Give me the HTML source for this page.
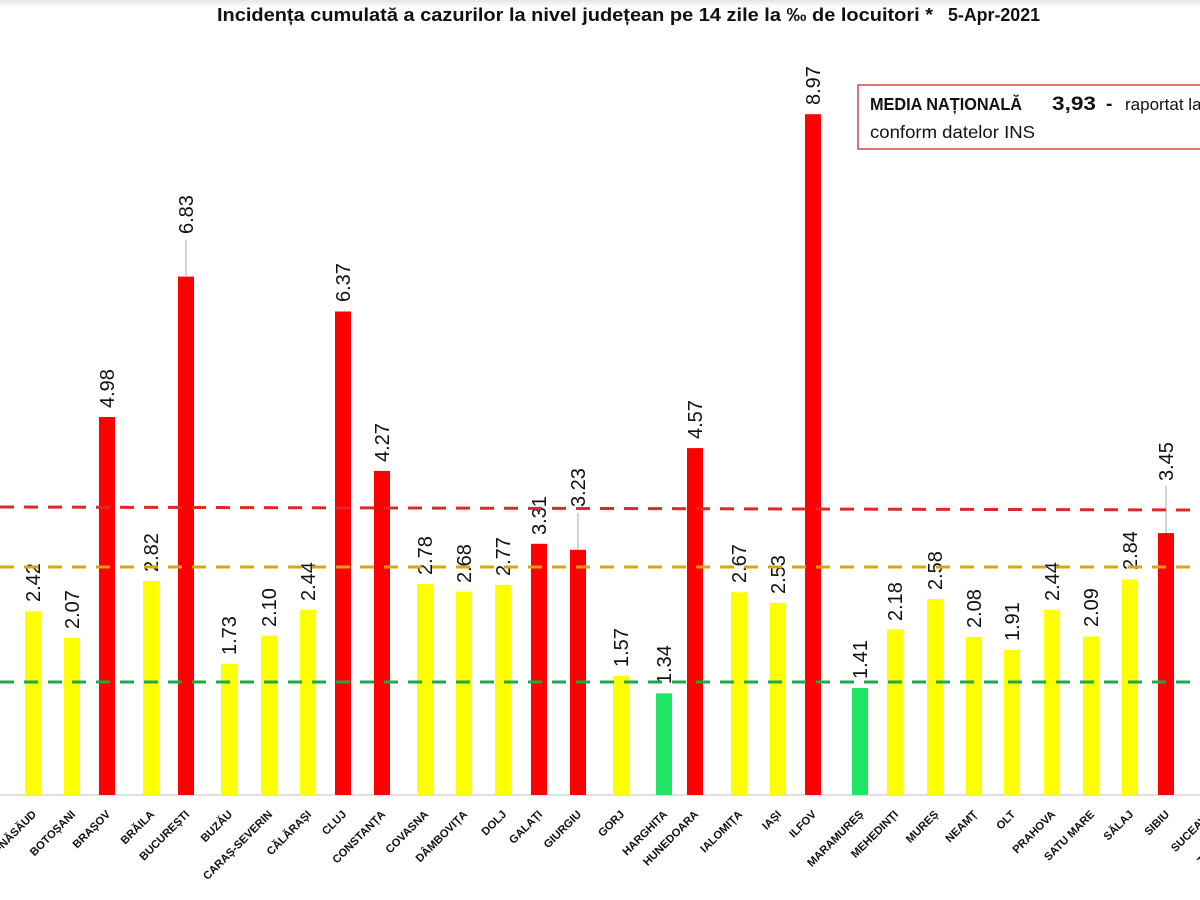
<!DOCTYPE html>
<html><head><meta charset="utf-8"><style>
html,body{margin:0;padding:0;background:#fff;}
svg{display:block;}
.v{font-family:"Liberation Sans",sans-serif;font-size:20px;fill:#111;}
.x{font-family:"Liberation Sans",sans-serif;font-size:11.2px;font-weight:bold;fill:#111;text-anchor:end;}
</style></head><body>
<svg width="1200" height="900" viewBox="0 0 1200 900" xmlns="http://www.w3.org/2000/svg">
<defs><linearGradient id="tg" x1="0" y1="0" x2="0" y2="1"><stop offset="0" stop-color="#e4e4e4"/><stop offset="1" stop-color="#ffffff"/></linearGradient></defs>
<rect x="0" y="0" width="1200" height="900" fill="#fff"/>
<rect x="0" y="0" width="1200" height="7" fill="url(#tg)"/>
<text x="217" y="21" font-family="Liberation Sans, sans-serif" font-size="18.5" font-weight="bold" fill="#111" textLength="716" lengthAdjust="spacingAndGlyphs">Incidența cumulată a cazurilor la nivel județean pe 14 zile la ‰ de locuitori *</text>
<text x="948" y="21" font-family="Liberation Sans, sans-serif" font-size="18.5" font-weight="bold" fill="#111" textLength="92" lengthAdjust="spacingAndGlyphs">5-Apr-2021</text>

<rect x="858" y="85" width="400" height="64" fill="#fff" stroke="#d04848" stroke-width="1.5"/>
<text x="870" y="110" font-family="Liberation Sans, sans-serif" font-size="17.5" font-weight="bold" fill="#111" textLength="152" lengthAdjust="spacingAndGlyphs">MEDIA NAȚIONALĂ</text>
<text x="1052" y="110" font-family="Liberation Sans, sans-serif" font-size="19" font-weight="bold" fill="#111" textLength="44" lengthAdjust="spacingAndGlyphs">3,93</text>
<text x="1106" y="110" font-family="Liberation Sans, sans-serif" font-size="19" font-weight="bold" fill="#111">-</text>
<text x="1125" y="110" font-family="Liberation Sans, sans-serif" font-size="17" fill="#111">raportat la populația</text>
<text x="870" y="138" font-family="Liberation Sans, sans-serif" font-size="17.5" fill="#111" textLength="165" lengthAdjust="spacingAndGlyphs">conform datelor INS</text>

<line x1="0" y1="795" x2="1200" y2="795" stroke="#d6d6d6" stroke-width="1.5"/>

<g>
<rect x="25" y="611.3" width="16" height="183.7" fill="#ffff00"/>
<rect x="64" y="637.9" width="16" height="157.1" fill="#ffff00"/>
<rect x="99" y="417" width="16" height="378" fill="#ff0000"/>
<rect x="143" y="581" width="16" height="214" fill="#ffff00"/>
<rect x="178" y="276.6" width="16" height="518.4" fill="#ff0000"/>
<rect x="221" y="663.7" width="16" height="131.3" fill="#ffff00"/>
<rect x="261" y="635.6" width="16" height="159.4" fill="#ffff00"/>
<rect x="300" y="609.8" width="16" height="185.2" fill="#ffff00"/>
<rect x="335" y="311.5" width="16" height="483.5" fill="#ff0000"/>
<rect x="374" y="470.9" width="16" height="324.1" fill="#ff0000"/>
<rect x="417" y="584" width="16" height="211" fill="#ffff00"/>
<rect x="456" y="591.6" width="16" height="203.4" fill="#ffff00"/>
<rect x="495" y="584.8" width="16" height="210.2" fill="#ffff00"/>
<rect x="531" y="543.8" width="16" height="251.2" fill="#ff0000"/>
<rect x="570" y="549.8" width="16" height="245.2" fill="#ff0000"/>
<rect x="613" y="675.8" width="16" height="119.2" fill="#ffff00"/>
<rect x="656" y="693.3" width="16" height="101.7" fill="#20e464"/>
<rect x="687" y="448.1" width="16" height="346.9" fill="#ff0000"/>
<rect x="731" y="592.3" width="16" height="202.7" fill="#ffff00"/>
<rect x="770" y="603" width="16" height="192" fill="#ffff00"/>
<rect x="805" y="114.2" width="16" height="680.8" fill="#ff0000"/>
<rect x="852" y="688" width="16" height="107" fill="#20e464"/>
<rect x="887" y="629.5" width="16" height="165.5" fill="#ffff00"/>
<rect x="927" y="599.2" width="16" height="195.8" fill="#ffff00"/>
<rect x="966" y="637.1" width="16" height="157.9" fill="#ffff00"/>
<rect x="1004" y="650" width="16" height="145" fill="#ffff00"/>
<rect x="1044" y="609.8" width="16" height="185.2" fill="#ffff00"/>
<rect x="1083" y="636.4" width="16" height="158.6" fill="#ffff00"/>
<rect x="1122" y="579.4" width="16" height="215.6" fill="#ffff00"/>
<rect x="1158" y="533.1" width="16" height="261.9" fill="#ff0000"/>
</g>

<g stroke="#a8a8a8" stroke-width="1">
<line x1="186" y1="240" x2="186" y2="277"/>
<line x1="578" y1="513" x2="578" y2="550"/>
<line x1="1166" y1="486" x2="1166" y2="533"/>
</g>

<g class="v">
<text transform="translate(40,602) rotate(-90)">2.42</text>
<text transform="translate(79,629) rotate(-90)">2.07</text>
<text transform="translate(114,408) rotate(-90)">4.98</text>
<text transform="translate(158,572) rotate(-90)">2.82</text>
<text transform="translate(193,234) rotate(-90)">6.83</text>
<text transform="translate(236,655) rotate(-90)">1.73</text>
<text transform="translate(276,627) rotate(-90)">2.10</text>
<text transform="translate(315,601) rotate(-90)">2.44</text>
<text transform="translate(350,302) rotate(-90)">6.37</text>
<text transform="translate(389,462) rotate(-90)">4.27</text>
<text transform="translate(432,575) rotate(-90)">2.78</text>
<text transform="translate(471,583) rotate(-90)">2.68</text>
<text transform="translate(510,576) rotate(-90)">2.77</text>
<text transform="translate(546,535) rotate(-90)">3.31</text>
<text transform="translate(585,507) rotate(-90)">3.23</text>
<text transform="translate(628,667) rotate(-90)">1.57</text>
<text transform="translate(671,684) rotate(-90)">1.34</text>
<text transform="translate(702,439) rotate(-90)">4.57</text>
<text transform="translate(746,583) rotate(-90)">2.67</text>
<text transform="translate(785,594) rotate(-90)">2.53</text>
<text transform="translate(820,105) rotate(-90)">8.97</text>
<text transform="translate(867,679) rotate(-90)">1.41</text>
<text transform="translate(902,621) rotate(-90)">2.18</text>
<text transform="translate(942,590) rotate(-90)">2.58</text>
<text transform="translate(981,628) rotate(-90)">2.08</text>
<text transform="translate(1019,641) rotate(-90)">1.91</text>
<text transform="translate(1059,601) rotate(-90)">2.44</text>
<text transform="translate(1098,627) rotate(-90)">2.09</text>
<text transform="translate(1137,570) rotate(-90)">2.84</text>
<text transform="translate(1173,481) rotate(-90)">3.45</text>
</g>

<g stroke-width="3" fill="none">
<line x1="0" y1="507" x2="1200" y2="510" stroke="#e02828" stroke-dasharray="14 10"/>
<line x1="0" y1="567" x2="1200" y2="567" stroke="#e0a310" stroke-dasharray="14 10"/>
<line x1="0" y1="682" x2="1200" y2="682" stroke="#1ea84a" stroke-dasharray="14 10"/>
</g>

<g class="x">
<text transform="translate(37,815) rotate(-45)">BISTRIȚA-NĂSĂUD</text>
<text transform="translate(76,815) rotate(-45)">BOTOȘANI</text>
<text transform="translate(111,815) rotate(-45)">BRAȘOV</text>
<text transform="translate(155,815) rotate(-45)">BRĂILA</text>
<text transform="translate(190,815) rotate(-45)">BUCUREȘTI</text>
<text transform="translate(233,815) rotate(-45)">BUZĂU</text>
<text transform="translate(273,815) rotate(-45)">CARAȘ-SEVERIN</text>
<text transform="translate(312,815) rotate(-45)">CĂLĂRAȘI</text>
<text transform="translate(347,815) rotate(-45)">CLUJ</text>
<text transform="translate(386,815) rotate(-45)">CONSTANȚA</text>
<text transform="translate(429,815) rotate(-45)">COVASNA</text>
<text transform="translate(468,815) rotate(-45)">DÂMBOVIȚA</text>
<text transform="translate(507,815) rotate(-45)">DOLJ</text>
<text transform="translate(543,815) rotate(-45)">GALAȚI</text>
<text transform="translate(582,815) rotate(-45)">GIURGIU</text>
<text transform="translate(625,815) rotate(-45)">GORJ</text>
<text transform="translate(668,815) rotate(-45)">HARGHITA</text>
<text transform="translate(699,815) rotate(-45)">HUNEDOARA</text>
<text transform="translate(743,815) rotate(-45)">IALOMIȚA</text>
<text transform="translate(782,815) rotate(-45)">IAȘI</text>
<text transform="translate(817,815) rotate(-45)">ILFOV</text>
<text transform="translate(864,815) rotate(-45)">MARAMUREȘ</text>
<text transform="translate(899,815) rotate(-45)">MEHEDINȚI</text>
<text transform="translate(939,815) rotate(-45)">MUREȘ</text>
<text transform="translate(978,815) rotate(-45)">NEAMȚ</text>
<text transform="translate(1016,815) rotate(-45)">OLT</text>
<text transform="translate(1056,815) rotate(-45)">PRAHOVA</text>
<text transform="translate(1095,815) rotate(-45)">SATU MARE</text>
<text transform="translate(1134,815) rotate(-45)">SĂLAJ</text>
<text transform="translate(1170,815) rotate(-45)">SIBIU</text>
<text transform="translate(1213,815) rotate(-45)">SUCEAVA</text>
<text transform="translate(1252,815) rotate(-45)">TELEORMAN</text>
</g>
</svg>
</body></html>
